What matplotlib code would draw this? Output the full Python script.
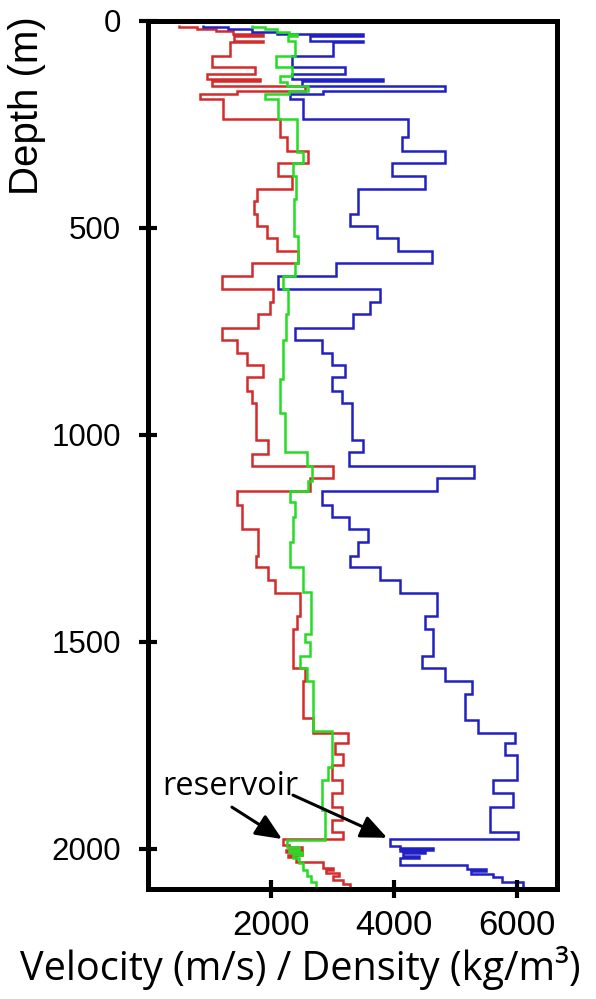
import matplotlib
matplotlib.use("Agg")
from matplotlib import pyplot as plt

# layer edges (depth, m) and values for each log
vp_edges = [10, 15, 20, 26, 31, 36, 48, 51, 84, 111, 128, 140, 145, 157, 169, 176, 188, 236, 280, 314,
            343, 374, 405, 466, 495, 524, 555, 584, 615, 647, 678, 709, 741, 770, 801, 832, 861, 893, 922, 1013,
            1042, 1074, 1103, 1136, 1168, 1197, 1228, 1259, 1293, 1320, 1351, 1382, 1437, 1469, 1534, 1563,
            1595, 1625, 1689, 1720, 1744, 1773, 1834, 1865, 1899, 1959, 1975, 1992, 1998, 2002, 2006, 2010,
            2016, 2022, 2038, 2048, 2054, 2060, 2068, 2080, 2097]
vp_values = [900, 1300, 1700, 2100, 3500, 2630, 3500, 3000, 2340, 3200, 2340, 3820, 2500, 4830, 2850, 2310,
             2520, 4230, 4130, 4830, 3970, 4500, 3415, 3285, 3720, 4065, 4620, 3060, 2110, 3770, 3610, 3330,
             2390, 2830, 2990, 3200, 2990, 3150, 3320, 3500, 3270, 5300, 4700, 2830, 2990, 3270, 3580, 3415,
             3285, 3770, 4100, 4700, 4500, 4630, 4455, 4830, 5270, 5150, 5370, 5970, 5800, 6000, 5610, 5935,
             5560, 6016, 3935, 4100, 4630, 4100, 4500, 4150, 4400, 4100, 5190, 5500, 5250, 5600, 5750, 6100]

vs_edges = [10, 15, 20, 25, 31, 36, 48, 51, 84, 111, 128, 140, 145, 157, 169, 176, 188, 236, 280, 314,
            343, 374, 405, 434, 466, 495, 524, 555, 584, 615, 647, 678, 709, 741, 770, 801, 832, 861, 893, 922,
            1013, 1045, 1074, 1103, 1136, 1168, 1228, 1293, 1320, 1351, 1382, 1438, 1469, 1563, 1595, 1684,
            1720, 1744, 1770, 1797, 1834, 1865, 1899, 1930, 1959, 1975, 1990, 1996, 2002, 2008, 2014, 2020,
            2031, 2046, 2052, 2058, 2066, 2075, 2085, 2097]
vs_values = [500, 800, 1100, 1380, 1870, 1400, 1870, 1330, 1040, 1740, 960, 1820, 1040, 2550, 1450, 850,
             1220, 2150, 2260, 2600, 2110, 2340, 1770, 1720, 1770, 1930, 2100, 2440, 1700, 1200, 2030, 1980,
             1790, 1200, 1450, 1610, 1870, 1610, 1690, 1760, 1950, 1690, 3010, 2630, 1450, 1530, 1790, 1760,
             1950, 2060, 2470, 2420, 2360, 2550, 2520, 2680, 3250, 3040, 3170, 2990, 3150, 2990, 3150, 2990,
             3170, 2200, 2300, 2500, 2250, 2500, 2280, 2400, 2850, 3000, 2900, 3100, 3000, 3170, 3280]

rho_edges = [10, 15, 20, 26, 31, 36, 48, 84, 111, 133, 147, 157, 169, 176, 188, 236, 316, 343, 374, 430,
             520, 584, 615, 647, 709, 770, 866, 946, 1042, 1076, 1110, 1136, 1163, 1199, 1259, 1320, 1380,
             1481, 1500, 1534, 1563, 1595, 1716, 1802, 1834, 1906, 1978, 1995, 2002, 2008, 2014, 2022, 2035,
             2050, 2065, 2080, 2097]
rho_values = [1700, 1900, 2100, 2300, 2420, 2280, 2390, 2080, 2340, 2150, 2260, 2600, 2300, 1900, 2110,
              2420, 2520, 2360, 2400, 2380, 2440, 2390, 2200, 2270, 2250, 2200, 2150, 2230, 2585, 2670, 2600,
              2310, 2390, 2360, 2310, 2520, 2650, 2550, 2630, 2470, 2585, 2680, 2990, 2930, 2830, 2880, 2260,
              2450, 2300, 2500, 2350, 2450, 2520, 2580, 2650, 2730]

x_ticks = [2000, 4000, 6000]
y_ticks = [0, 500, 1000, 1500, 2000]

label_txt = (230, 1850)
arrow_1 = ((1366, 1899), (2179, 1976))
arrow_2 = ((2358, 1870), (3886, 1973))

fig = plt.figure(figsize=(5.96, 9.99), dpi=100)
ax = fig.add_axes([0.248, 0.110, 0.687, 0.869])

ax.stairs(vs_values, vs_edges, orientation="horizontal", baseline=None, color="#d42a2a", lw=1.8)
ax.stairs(vp_values, vp_edges, orientation="horizontal", baseline=None, color="#2020c4", lw=1.8)
ax.stairs(rho_values, rho_edges, orientation="horizontal", baseline=None, color="#22dd22", lw=1.8)

ax.set_xlim(0, 6650)
ax.set_ylim(2097, 0)
ax.set_xticks(x_ticks)
ax.set_yticks(y_ticks)
for s in ax.spines.values():
    s.set_linewidth(3.6)
ax.tick_params(direction="inout", length=13, width=3)
ax.tick_params(axis="x", pad=8, labelsize=25)
ax.tick_params(axis="y", pad=13, labelsize=22.5)
for t in ax.get_xticklabels() + ax.get_yticklabels():
    t.set_fontfamily("Liberation Sans")

ax.text(label_txt[0], label_txt[1], "reservoir", fontsize=23.5, family="Open Sans",
        ha="left", va="center")
for tail, head in (arrow_1, arrow_2):
    ax.annotate("", xy=head, xytext=tail,
                arrowprops=dict(arrowstyle="-|>,head_length=0.8,head_width=0.35",
                                color="black", lw=2.2, mutation_scale=20,
                                shrinkA=0, shrinkB=0))

fig.text(300 / 596, 1 - 968 / 999, "Velocity (m/s) / Density (kg/m\u00b3)",
         fontsize=28.5, family="Open Sans", ha="center", va="center")
fig.text(27 / 596, 1 - 106 / 999, "Depth (m)", rotation=90, fontsize=29,
         family="Liberation Sans", ha="center", va="center")

plt.savefig("out.png", dpi=100)
